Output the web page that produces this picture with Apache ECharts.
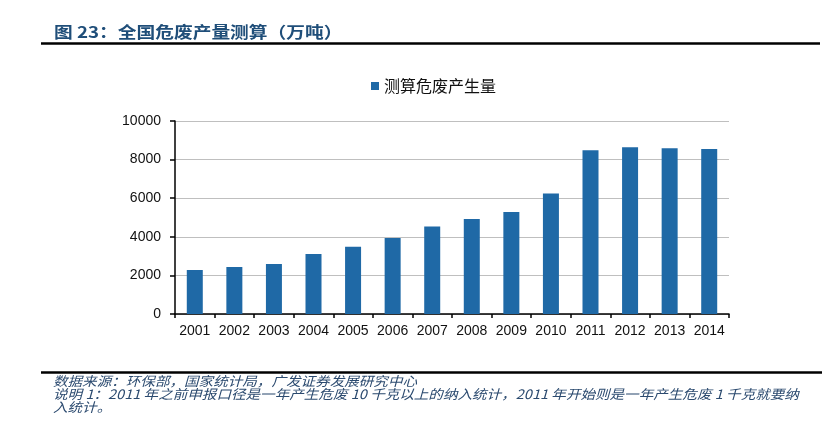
<!DOCTYPE html>
<html>
<head>
<meta charset="utf-8">
<script src="https://cdn.jsdelivr.net/npm/echarts@6/dist/echarts.min.js"></script>
<style>
html,body{margin:0;padding:0;background:#fff;}
#c{width:838px;height:448px;}
</style>
</head>
<body>
<div id="c"></div>
<script>
var categories = ['2001','2002','2003','2004','2005','2006','2007','2008','2009','2010','2011','2012','2013','2014'];
var hazardousWaste = [2280, 2435, 2590, 3110, 3490, 3940, 4540, 4920, 5285, 6250, 8480, 8635, 8585, 8550];
var seriesName = '测算危废产生量';
var titleText = '图 23：全国危废产量测算（万吨）';
var sourceText = '数据来源：环保部，国家统计局，广发证券发展研究中心';
var noteLine1 = '说明 1：2011 年之前申报口径是一年产生危废 10 千克以上的纳入统计，2011 年开始则是一年产生危废 1 千克就要纳';
var noteLine2 = '入统计。';

var cjk = 'Noto Sans CJK SC';
var latin = 'Liberation Sans';
var chart = echarts.init(document.getElementById('c'), null, {renderer: 'canvas'});
chart.setOption({
  animation: false,
  backgroundColor: '#ffffff',
  textStyle: {fontFamily: cjk},
  grid: {left: 175, right: 109, top: 121, bottom: 134, containLabel: false},
  legend: {
    data: [seriesName],
    left: 366, top: 73,
    icon: 'rect', itemWidth: 8, itemHeight: 8,
    textStyle: {fontSize: 16, color: '#111111', fontFamily: cjk}
  },
  xAxis: {
    type: 'category',
    data: categories,
    axisLine: {lineStyle: {color: '#000000', width: 1.5}},
    axisTick: {show: true, alignWithLabel: false, interval: 0, length: 4, lineStyle: {color: '#000000', width: 1.5}},
    axisLabel: {interval: 0, fontSize: 14, color: '#111111', margin: 10, fontFamily: latin},
    splitLine: {show: false}
  },
  yAxis: {
    type: 'value',
    min: 0, max: 10000, interval: 2000,
    axisLine: {show: true, lineStyle: {color: '#000000', width: 1.5}},
    axisTick: {show: true, length: 5, lineStyle: {color: '#000000', width: 1.5}},
    axisLabel: {fontSize: 14, color: '#111111', margin: 14, fontFamily: latin, formatter: function (v) { return String(v); }},
    splitLine: {show: true, lineStyle: {color: '#bfbfbf', width: 1}}
  },
  series: [{
    name: seriesName,
    type: 'bar',
    data: hazardousWaste,
    barWidth: 16,
    itemStyle: {color: '#1F69A6'}
  }],
  graphic: [
    {type: 'text', left: 54, top: 24, scaleX: 1.17, style: {text: titleText, fontSize: 16, fontWeight: 'bold', fill: '#1F4E79', fontFamily: cjk}},
    {type: 'line', shape: {x1: 41, y1: 43.5, x2: 820, y2: 43.5}, style: {stroke: '#000000', lineWidth: 2.5}},
    {type: 'line', shape: {x1: 41, y1: 372.5, x2: 822, y2: 372.5}, style: {stroke: '#000000', lineWidth: 2.5}},
    {type: 'text', left: 53, top: 375, scaleX: 1.12, style: {text: sourceText, fontSize: 13, fontStyle: 'italic', fill: '#2B4A6F', fontFamily: cjk}},
    {type: 'text', left: 53, top: 388, scaleX: 1.12, style: {text: noteLine1, fontSize: 13, fontStyle: 'italic', fill: '#2B4A6F', fontFamily: cjk}},
    {type: 'text', left: 53, top: 401, scaleX: 1.12, style: {text: noteLine2, fontSize: 13, fontStyle: 'italic', fill: '#2B4A6F', fontFamily: cjk}}
  ]
});
</script>
</body>
</html>
